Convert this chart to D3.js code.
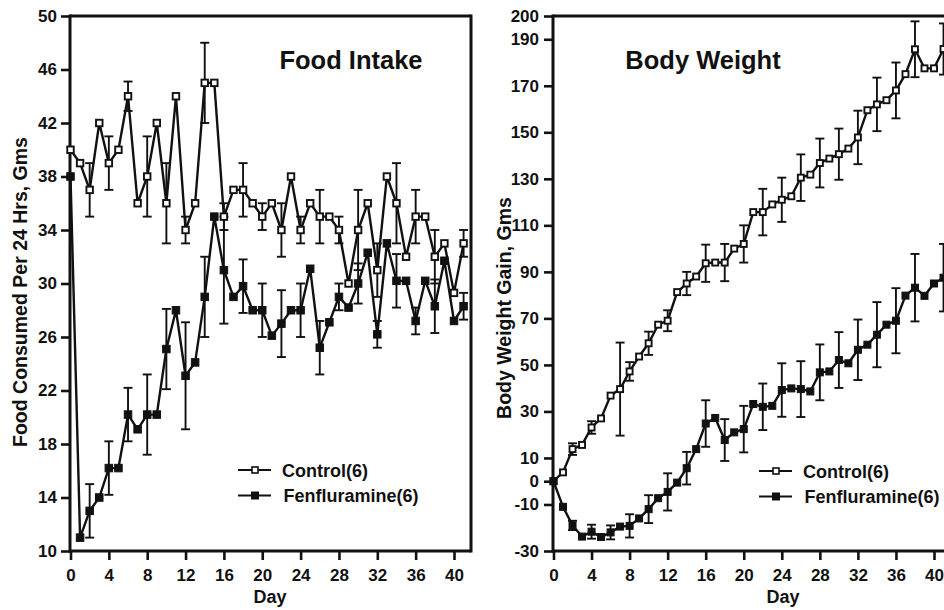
<!DOCTYPE html>
<html>
<head>
<meta charset="utf-8">
<script src="https://cdn.jsdelivr.net/npm/d3@7"></script>
<style>
  html, body { margin: 0; padding: 0; background: #fff; }
  svg { display: block; }
  text { font-family: "Liberation Sans", Arial, Helvetica, sans-serif; font-weight: bold; fill: #111; }
</style>
</head>
<body>
<svg id="chart" width="944" height="610"></svg>
<script>
// Days of the study (one reading per day)
const days = d3.range(0, 42);
const dayTicks = [0, 4, 8, 12, 16, 20, 24, 28, 32, 36, 40];

// Food intake, grams per 24 h
const foodControl = [40, 39, 37, 42, 39, 40, 44, 36, 38, 42, 36, 44, 34, 36, 45, 45, 35, 37, 37, 36,
  35, 36, 34, 38, 34, 36, 35, 35, 34, 30, 34, 36, 31, 38, 36, 32, 35, 35, 32, 33, 29.3, 33];
const foodControlErr = [null, null, 2, null, 2, null, 1.1, null, 3, null, 3, null, 1, null, 3, null, 1, null, 2, null,
  1, null, 2, null, 1, null, 2, null, 1, null, 3, null, 2, null, 3, null, 2, null, 2, null, null, 1];
const foodFen = [38, 11, 13, 14, 16.2, 16.2, 20.2, 19.1, 20.2, 20.2, 25.1, 28, 23.1, 24.1, 29, 35, 31, 29, 29.8, 28,
  28, 26.1, 27, 28, 28, 31.1, 25.2, 27.1, 29, 28.2, 30, 32.3, 26.2, 33, 30.2, 30.2, 27.2, 30.2, 28.3, 31.7, 27.2, 28.3];
const foodFenErr = [null, null, 2, null, 2, null, 2, null, 3, null, 3, null, 4, null, 3, null, 4, null, 2, null,
  2, null, 2.5, null, 2, null, 2, null, 1, null, 1.5, null, 1, null, 2, null, 1, null, 2, null, null, 1];
const foodTicks = [10, 14, 18, 22, 26, 30, 34, 38, 42, 46, 50];

// Body weight gain, grams
const weightControl = [0, 3.8, 13.8, 15.6, 23.1, 27, 36.8, 39.6, 47.2, 53.6, 59.3, 67.3, 69, 81.3, 85, 88, 93.7, 94, 94, 100,
  102, 115.7, 115.7, 119, 121, 122.5, 130.5, 131.8, 136.8, 138.7, 140.6, 143, 147.8, 159.5, 162, 163.8, 168, 175, 185.7, 177.5, 177.5, 185.8];
const weightControlErr = [null, null, 2.5, null, 2.7, null, null, 20, 4, null, 5, null, 4.5, null, 5, null, 8, null, 8, null,
  8, null, 10, null, 9.5, null, 10, null, 10.5, null, 11, null, 11.5, null, 11.5, null, 12, null, 12, null, null, 11];
const weightFen = [0, -11, -19, -23.8, -21.7, -24, -22, -19.5, -19.2, -16, -12, -7.3, -4.6, -0.6, 5.6, 13.8, 24.8, 27.2, 17.7, 21,
  22.4, 33.2, 32, 32.4, 39.2, 39.9, 39.6, 38.6, 46.8, 47.2, 52.1, 50.7, 56.5, 58.7, 63, 67.3, 69, 79.8, 83.2, 79.7, 85, 87.5];
const weightFenErr = [null, null, 2, null, 3, null, 3, null, 5, null, 6, null, 8, null, 7, null, 10, null, 9, null,
  10, null, 10, null, 11.5, null, 12, null, 12, null, 12, null, 13, null, 14, null, 14, null, 14.5, null, null, 14.5];
const weightTicks = [-30, -10, 0, 10, 30, 50, 70, 90, 110, 130, 150, 170, 190, 200];

const seriesNames = ["Control(6)", "Fenfluramine(6)"];

const svg = d3.select("#chart");
const ink = "#111";
// plain hyphen for negative numbers
const fmt = d => String(d);

function drawPanel(cfg) {
  const g = svg.append("g");
  const x = d3.scaleLinear().domain([0, 40]).range(cfg.xRange);
  const y = d3.scaleLinear().domain(cfg.yDomain).range([cfg.bottom, cfg.top]);

  // axes with outward ticks
  const yAxis = g.append("g").attr("transform", `translate(${cfg.left},0)`)
    .call(d3.axisLeft(y).tickValues(cfg.yTicks).tickFormat(fmt).tickSize(9).tickSizeOuter(0).tickPadding(cfg.yPad));
  const xAxis = g.append("g").attr("transform", `translate(0,${cfg.bottom})`)
    .call(d3.axisBottom(x).tickValues(dayTicks).tickFormat(fmt).tickSize(9).tickSizeOuter(0).tickPadding(9));
  [xAxis, yAxis].forEach(a => {
    a.select(".domain").remove();
    a.selectAll(".tick line").attr("stroke", ink).attr("stroke-width", 2.6);
    a.selectAll(".tick text").attr("font-size", 17).attr("fill", ink)
      .style("font-family", '"Liberation Sans", Arial, sans-serif').style("font-weight", "bold");
  });

  // frame
  const frame = g.append("g").attr("stroke", ink).attr("stroke-width", 3).attr("fill", "none");
  frame.append("line").attr("x1", cfg.left).attr("x2", cfg.left).attr("y1", cfg.top - 1.5).attr("y2", cfg.bottom + 1.5);
  frame.append("line").attr("x1", cfg.left).attr("x2", cfg.right).attr("y1", cfg.bottom).attr("y2", cfg.bottom);
  frame.append("line").attr("x1", cfg.left).attr("x2", cfg.right).attr("y1", cfg.top).attr("y2", cfg.top);
  if (cfg.rightBorder) {
    frame.append("line").attr("x1", cfg.right).attr("x2", cfg.right).attr("y1", cfg.top - 1.5).attr("y2", cfg.bottom + 1.5);
  }

  const line = d3.line().x((d, i) => x(days[i])).y(d => y(d));
  const series = [
    { vals: cfg.control, err: cfg.controlErr, open: true },
    { vals: cfg.fen, err: cfg.fenErr, open: false }
  ];

  // error bars
  series.forEach(s => {
    const eb = g.append("g").attr("stroke", ink).attr("stroke-width", 1.9);
    s.vals.forEach((v, i) => {
      const e = s.err[i];
      if (e == null) return;
      const cx = x(days[i]);
      eb.append("line").attr("x1", cx).attr("x2", cx).attr("y1", y(v + e)).attr("y2", y(v - e));
      eb.append("line").attr("x1", cx - 4.5).attr("x2", cx + 4.5).attr("y1", y(v + e)).attr("y2", y(v + e));
      eb.append("line").attr("x1", cx - 4.5).attr("x2", cx + 4.5).attr("y1", y(v - e)).attr("y2", y(v - e));
    });
  });

  // lines and markers
  series.forEach(s => {
    g.append("path").datum(s.vals).attr("d", line)
      .attr("fill", "none").attr("stroke", ink).attr("stroke-width", 2.4).attr("stroke-linejoin", "miter");
  });
  series.forEach(s => {
    const size = s.open ? cfg.openSize : cfg.fillSize;
    g.append("g").selectAll("rect").data(s.vals).join("rect")
      .attr("x", (d, i) => x(days[i]) - size / 2)
      .attr("y", d => y(d) - size / 2)
      .attr("width", size).attr("height", size)
      .attr("fill", s.open ? "#fff" : ink)
      .attr("stroke", ink).attr("stroke-width", s.open ? 1.9 : 1);
  });

  // title
  g.append("text").attr("x", cfg.titleX).attr("y", cfg.titleY).attr("text-anchor", "middle")
    .attr("font-size", 25.5).text(cfg.title);

  // axis titles
  g.append("text").attr("transform", `translate(${cfg.yTitleX},${cfg.yTitleY}) rotate(-90)`)
    .attr("text-anchor", "middle").attr("font-size", 19.5).text(cfg.yTitle);
  g.append("text").attr("x", cfg.dayX).attr("y", 603).attr("text-anchor", "middle")
    .attr("font-size", 18).text("Day");

  // legend
  const lg = g.append("g");
  seriesNames.forEach((name, i) => {
    const ly = cfg.legendY + i * 25.5;
    lg.append("line").attr("x1", cfg.legendX).attr("x2", cfg.legendX + 33).attr("y1", ly).attr("y2", ly)
      .attr("stroke", ink).attr("stroke-width", 2);
    const sz = i === 0 ? 6 : 7;
    lg.append("rect").attr("x", cfg.legendX + 17 - sz / 2).attr("y", ly - sz / 2).attr("width", sz).attr("height", sz)
      .attr("fill", i === 0 ? "#fff" : ink).attr("stroke", ink).attr("stroke-width", i === 0 ? 1.6 : 1);
    lg.append("text").attr("x", cfg.legendX + 44 + i * 1.5).attr("y", ly + 6.5).attr("font-size", 18).text(name);
  });
}

drawPanel({
  left: 70, right: 471, top: 16, bottom: 551, rightBorder: true,
  xRange: [70.5, 454], yDomain: [10, 50], yTicks: foodTicks, yPad: 4,
  control: foodControl, controlErr: foodControlErr, fen: foodFen, fenErr: foodFenErr,
  openSize: 6.5, fillSize: 7.5,
  title: "Food Intake", titleX: 351, titleY: 69,
  yTitle: "Food Consumed Per 24 Hrs, Gms", yTitleX: 27, yTitleY: 292,
  dayX: 270, legendX: 238, legendY: 470
});

drawPanel({
  left: 553, right: 944, top: 16, bottom: 551, rightBorder: false,
  xRange: [553.5, 934], yDomain: [-30, 200], yTicks: weightTicks, yPad: 5,
  control: weightControl, controlErr: weightControlErr, fen: weightFen, fenErr: weightFenErr,
  openSize: 6, fillSize: 7,
  title: "Body Weight", titleX: 703, titleY: 69,
  yTitle: "Body Weight Gain, Gms", yTitleX: 511, yTitleY: 308,
  dayX: 783, legendX: 759, legendY: 471
});
</script>
</body>
</html>
